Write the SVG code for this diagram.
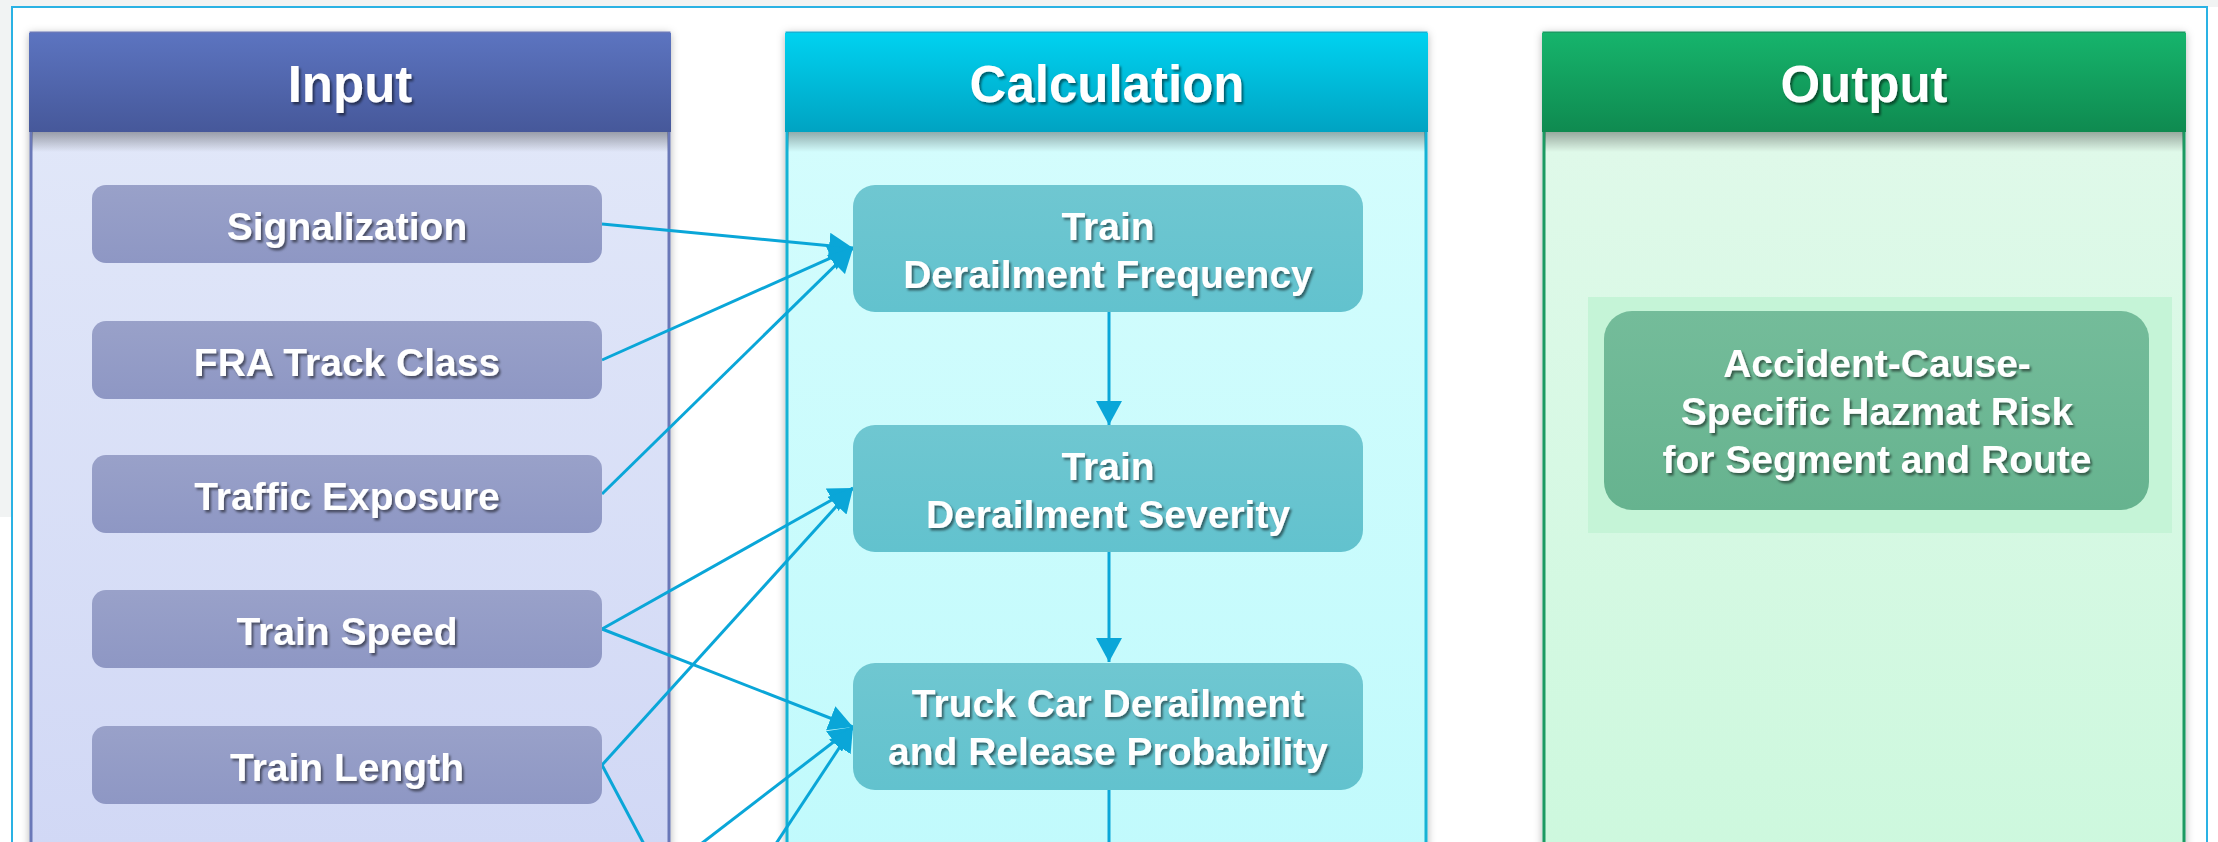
<svg xmlns="http://www.w3.org/2000/svg" width="2218" height="842" viewBox="0 0 2218 842">
<defs>
<linearGradient id="hIn" x1="0" y1="0" x2="0" y2="1"><stop offset="0" stop-color="#5c74c0"/><stop offset="1" stop-color="#46589a"/></linearGradient>
<linearGradient id="hCa" x1="0" y1="0" x2="0" y2="1"><stop offset="0" stop-color="#00d2f0"/><stop offset="1" stop-color="#00a3c2"/></linearGradient>
<linearGradient id="hOu" x1="0" y1="0" x2="0" y2="1"><stop offset="0" stop-color="#16b46c"/><stop offset="1" stop-color="#0f8a50"/></linearGradient>
<linearGradient id="bIn" x1="0" y1="0" x2="0" y2="1"><stop offset="0" stop-color="#e3e9f9"/><stop offset="1" stop-color="#d0d7f5"/></linearGradient>
<linearGradient id="bCa" x1="0" y1="0" x2="0" y2="1"><stop offset="0" stop-color="#d6fdfd"/><stop offset="1" stop-color="#c0fafc"/></linearGradient>
<linearGradient id="bOu" x1="0" y1="0" x2="0" y2="1"><stop offset="0" stop-color="#e2f9eb"/><stop offset="1" stop-color="#ccf8dd"/></linearGradient>
<linearGradient id="hs" x1="0" y1="0" x2="0" y2="1"><stop offset="0" stop-color="#000" stop-opacity="0.32"/><stop offset="1" stop-color="#000" stop-opacity="0"/></linearGradient>
<linearGradient id="nIn" x1="0" y1="0" x2="0" y2="1"><stop offset="0" stop-color="#99a1c9"/><stop offset="1" stop-color="#8e97c4"/></linearGradient>
<linearGradient id="nCa" x1="0" y1="0" x2="0" y2="1"><stop offset="0" stop-color="#6fc7d1"/><stop offset="1" stop-color="#62c2ce"/></linearGradient>
<linearGradient id="nOu" x1="0" y1="0" x2="0" y2="1"><stop offset="0" stop-color="#74bc9a"/><stop offset="1" stop-color="#66b38f"/></linearGradient>
<filter id="ts" x="-10%" y="-30%" width="120%" height="160%"><feDropShadow dx="2" dy="2.5" stdDeviation="1.3" flood-color="#000" flood-opacity="0.5"/></filter>
<filter id="ps" x="-5%" y="-5%" width="110%" height="110%"><feDropShadow dx="0" dy="2" stdDeviation="4" flood-color="#000" flood-opacity="0.3"/></filter>
<marker id="ah" viewBox="0 0 24 26" refX="24" refY="13" markerWidth="24" markerHeight="26" markerUnits="userSpaceOnUse" orient="auto"><path d="M0,0 L24,13 L0,26 z" fill="#0aa6d8"/></marker>
</defs>
<style>
.ht{font-family:"Liberation Sans",Arial,sans-serif;font-weight:bold;font-size:51px;fill:#fff;text-anchor:middle;filter:url(#ts)}
.nt{font-family:"Liberation Sans",Arial,sans-serif;font-weight:bold;font-size:39px;fill:#fff;text-anchor:middle;filter:url(#ts)}
.cn{stroke:#0aa6d8;stroke-width:3;fill:none}
</style>
<rect x="0" y="0" width="2218" height="842" fill="#ffffff"/>
<rect x="0" y="0" width="2218" height="7" fill="#f1f3f3"/>
<rect x="0" y="0" width="11" height="517" fill="#f1f3f3"/>
<rect x="12" y="7" width="2195" height="900" fill="none" stroke="#2ab2e4" stroke-width="2"/>

<g id="panel-input">
<rect x="31" y="33" width="638" height="860" fill="url(#bIn)" stroke="#6b78b8" stroke-width="3" filter="url(#ps)"/>
<rect x="29" y="33" width="642" height="99" fill="url(#hIn)"/>
<rect x="32" y="132" width="636" height="20" fill="url(#hs)"/>
<text class="ht" x="350" y="102">Input</text>
</g>
<g id="panel-calculation">
<rect x="787" y="33" width="639" height="860" fill="url(#bCa)" stroke="#12b2d4" stroke-width="3" filter="url(#ps)"/>
<rect x="785" y="33" width="643" height="99" fill="url(#hCa)"/>
<rect x="788" y="132" width="637" height="20" fill="url(#hs)"/>
<text class="ht" x="1107" y="102">Calculation</text>
</g>
<g id="panel-output">
<rect x="1544" y="33" width="640" height="860" fill="url(#bOu)" stroke="#1a9a62" stroke-width="3" filter="url(#ps)"/>
<rect x="1542" y="33" width="644" height="99" fill="url(#hOu)"/>
<rect x="1545" y="132" width="638" height="20" fill="url(#hs)"/>
<text class="ht" x="1864" y="102">Output</text>
</g>

<g id="connectors">
<line class="cn" x1="602" y1="224" x2="853" y2="248" marker-end="url(#ah)"/>
<line class="cn" x1="602" y1="360" x2="853" y2="248" marker-end="url(#ah)"/>
<line class="cn" x1="602" y1="494" x2="853" y2="248" marker-end="url(#ah)"/>
<line class="cn" x1="602" y1="629" x2="853" y2="488" marker-end="url(#ah)"/>
<line class="cn" x1="602" y1="629" x2="853" y2="727" marker-end="url(#ah)"/>
<line class="cn" x1="602" y1="765" x2="853" y2="488" marker-end="url(#ah)"/>
<line class="cn" x1="602" y1="765" x2="662" y2="878"/>
<line class="cn" x1="654" y1="880" x2="853" y2="727" marker-end="url(#ah)"/>
<line class="cn" x1="752" y1="880" x2="853" y2="727" marker-end="url(#ah)"/>
<line class="cn" x1="1109" y1="312" x2="1109" y2="425" marker-end="url(#ah)"/>
<line class="cn" x1="1109" y1="552" x2="1109" y2="662" marker-end="url(#ah)"/>
<line class="cn" x1="1109" y1="790" x2="1109" y2="880"/>
</g>

<g id="n-signalization"><rect x="92" y="185" width="510" height="78" rx="14" fill="url(#nIn)"/><text class="nt" x="347" y="240">Signalization</text></g>
<g id="n-fra-track-class"><rect x="92" y="321" width="510" height="78" rx="14" fill="url(#nIn)"/><text class="nt" x="347" y="376">FRA Track Class</text></g>
<g id="n-traffic-exposure"><rect x="92" y="455" width="510" height="78" rx="14" fill="url(#nIn)"/><text class="nt" x="347" y="510">Traffic Exposure</text></g>
<g id="n-train-speed"><rect x="92" y="590" width="510" height="78" rx="14" fill="url(#nIn)"/><text class="nt" x="347" y="645">Train Speed</text></g>
<g id="n-train-length"><rect x="92" y="726" width="510" height="78" rx="14" fill="url(#nIn)"/><text class="nt" x="347" y="781">Train Length</text></g>

<g id="n-derailment-frequency"><rect x="853" y="185" width="510" height="127" rx="22" fill="url(#nCa)"/><text class="nt" x="1108" y="240">Train</text><text class="nt" x="1108" y="288">Derailment Frequency</text></g>
<g id="n-derailment-severity"><rect x="853" y="425" width="510" height="127" rx="22" fill="url(#nCa)"/><text class="nt" x="1108" y="480">Train</text><text class="nt" x="1108" y="528">Derailment Severity</text></g>
<g id="n-release-probability"><rect x="853" y="663" width="510" height="127" rx="22" fill="url(#nCa)"/><text class="nt" x="1108" y="717">Truck Car Derailment</text><text class="nt" x="1108" y="765">and Release Probability</text></g>

<g id="n-hazmat-risk">
<rect x="1588" y="297" width="584" height="236" fill="#c5f4d7"/>
<rect x="1604" y="311" width="545" height="199" rx="28" fill="url(#nOu)"/>
<text class="nt" x="1877" y="377">Accident-Cause-</text>
<text class="nt" x="1877" y="425">Specific Hazmat Risk</text>
<text class="nt" x="1877" y="473">for Segment and Route</text>
</g>
</svg>
